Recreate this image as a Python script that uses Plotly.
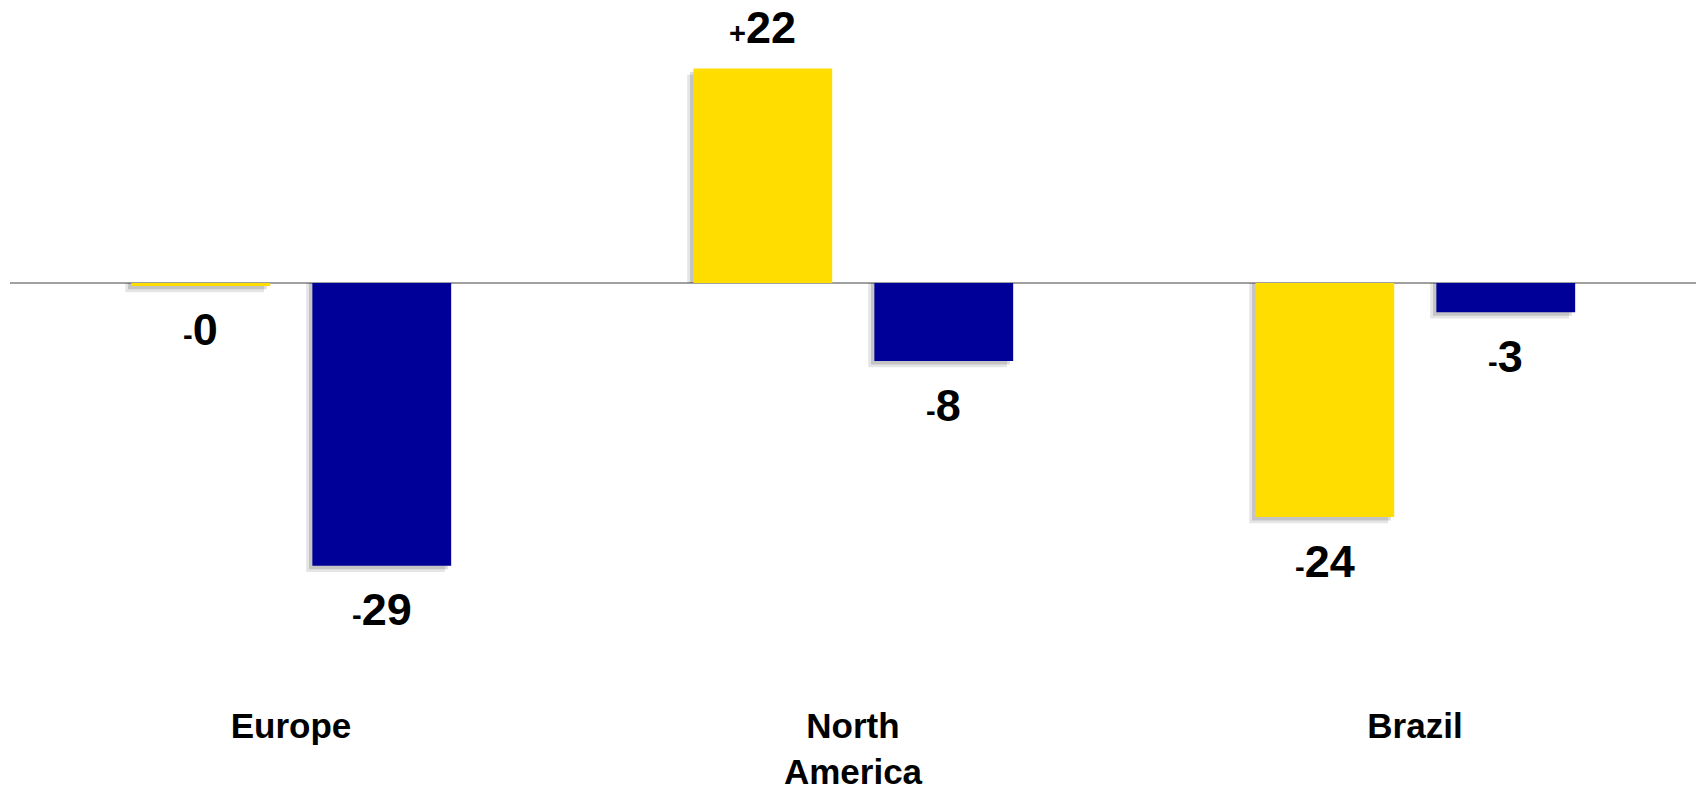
import plotly.graph_objects as go

# ---- data ----
categories = ["Europe", "North<br>America", "Brazil"]
series_a_name = "Series A"
series_b_name = "Series B"
series_a = [-0.3, 22, -24]   # yellow
series_b = [-29, -8, -3]     # dark blue

# ---- style ----
YELLOW = "#FFDD00"
BLUE = "#000099"
SHADOWS = [(-0.011, 0.65, "rgba(0,0,0,0.10)"), (-0.006, 0.35, "rgba(0,0,0,0.14)")]
BAR_W = 0.247
OFF_A = -0.284
OFF_B = 0.038
FONT = "Liberation Sans, Arial, sans-serif"

x_idx = list(range(len(categories)))

fig = go.Figure()

# soft drop shadows (two layers)
for dx, dy, col in SHADOWS:
    for vals, off in ((series_a, OFF_A), (series_b, OFF_B)):
        fig.add_trace(go.Bar(
            x=x_idx, y=[v - dy for v in vals], width=BAR_W, offset=off + dx,
            marker=dict(color=col, line=dict(width=0)), showlegend=False, hoverinfo="skip"))

fig.add_trace(go.Bar(name=series_a_name, x=x_idx, y=series_a, width=BAR_W, offset=OFF_A,
                     marker=dict(color=YELLOW, line=dict(width=0))))
fig.add_trace(go.Bar(name=series_b_name, x=x_idx, y=series_b, width=BAR_W, offset=OFF_B,
                     marker=dict(color=BLUE, line=dict(width=0))))

def label(v):
    sign = "+" if v > 0 else "-"
    return f'<span style="font-size:29px">{sign}</span>{abs(v):.0f}'

for vals, off in ((series_a, OFF_A), (series_b, OFF_B)):
    for i, v in zip(x_idx, vals):
        fig.add_annotation(
            x=i + off + BAR_W / 2, y=v, text=label(v), showarrow=False,
            yshift=41 if v > 0 else -44, yanchor="middle", xanchor="center",
            font=dict(family=FONT, size=45, color="black", weight="bold"))

fig.update_layout(
    template="none",
    width=1696, height=795,
    margin=dict(l=10, r=0, t=0, b=95),
    paper_bgcolor="white", plot_bgcolor="white",
    barmode="overlay",
    showlegend=False,
    xaxis=dict(
        range=[-0.5, 2.5], tickvals=x_idx, ticktext=categories,
        showgrid=False, zeroline=False, showline=False, ticks="",
        tickfont=dict(family=FONT, size=35, color="black", weight="bold"),
        ticklabelstandoff=2, automargin=False),
    yaxis=dict(
        range=[-42.77, 29.03], showgrid=False, showticklabels=False, ticks="",
        zeroline=True, zerolinecolor="#A0A0A0", zerolinewidth=2, showline=False,
        automargin=False),
)

fig.write_html("out.html")
